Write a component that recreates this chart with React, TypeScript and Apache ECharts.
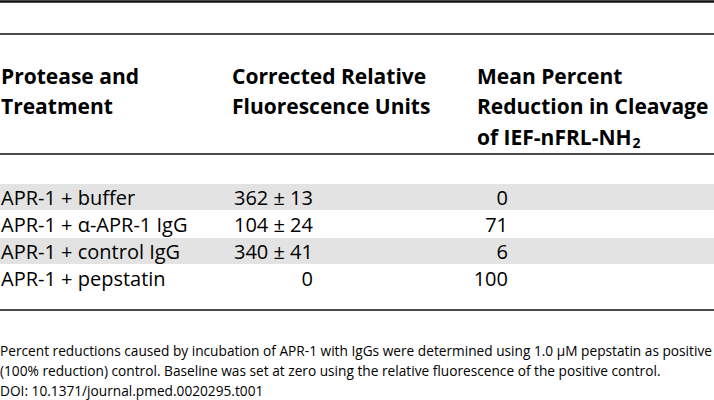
import React, { useEffect, useRef } from "react";
import * as echarts from "echarts";

const headers = [
  ["Protease and", "Treatment"],
  ["Corrected Relative", "Fluorescence Units"],
  ["Mean Percent", "Reduction in Cleavage", "of IEF-nFRL-NH{sub|2}"],
];
const treatments = [
  "APR-1 + buffer",
  "APR-1 + \u03b1-APR-1 IgG",
  "APR-1 + control IgG",
  "APR-1 + pepstatin",
];
const rfuMean = [362, 104, 340, 0];
const rfuSd: (number | null)[] = [13, 24, 41, null];
const reduction = [0, 71, 6, 100];
const footnotes = [
  "Percent reductions caused by incubation of APR-1 with IgGs were determined using 1.0 \u03bcM pepstatin as positive",
  "(100% reduction) control. Baseline was set at zero using the relative fluorescence of the positive control.",
  "DOI: 10.1371/journal.pmed.0020295.t001",
];

const FONT = "'Open Sans', 'DejaVu Sans', sans-serif";

export default function App() {
  const ref = useRef<HTMLDivElement>(null);
  useEffect(() => {
    if (!ref.current) return;
    const chart = echarts.init(ref.current, undefined, { renderer: "svg" });
    const W = 714;
    const colX = [1, 232, 477];
    const headerY = [76, 106, 137];
    const rowTop = 184;
    const rowH = 27;
    const g: any[] = [];
    const hline = (y: number, w: number) =>
      g.push({ type: "rect", shape: { x: 0, y: y - w / 2, width: W, height: w }, style: { fill: "#111" } });
    hline(1.5, 2.4);
    hline(34, 1.7);
    hline(154, 1.7);
    hline(310, 1.7);
    treatments.forEach((_, i) => {
      if (i % 2 === 0) {
        g.push({
          type: "rect",
          shape: { x: 0, y: rowTop + i * rowH, width: W, height: rowH - 1 },
          style: { fill: "#e3e3e3" },
        });
      }
    });
    headers.forEach((lines, c) => {
      lines.forEach((t, l) => {
        g.push({
          type: "text",
          x: colX[c],
          y: headerY[l],
          style: {
            text: t,
            fill: "#000",
            font: `bold 21px ${FONT}`,
            textVerticalAlign: "middle",
            rich: { sub: { font: `bold 14px ${FONT}`, fill: "#000", padding: [11, 0, 0, 1] } },
          },
        });
      });
    });
    treatments.forEach((t, i) => {
      const y = rowTop + i * rowH + 13;
      g.push({
        type: "text",
        x: colX[0],
        y,
        style: { text: t, fill: "#000", font: `20px ${FONT}`, textVerticalAlign: "middle" },
      });
      const sd = rfuSd[i];
      g.push({
        type: "text",
        x: 313,
        y,
        style: {
          text: sd === null ? String(rfuMean[i]) : `${rfuMean[i]} \u00b1 ${sd}`,
          fill: "#000",
          font: `20px ${FONT}`,
          textAlign: "right",
          textVerticalAlign: "middle",
        },
      });
      g.push({
        type: "text",
        x: 508,
        y,
        style: {
          text: String(reduction[i]),
          fill: "#000",
          font: `20px ${FONT}`,
          textAlign: "right",
          textVerticalAlign: "middle",
        },
      });
    });
    const footY = [350, 370, 390];
    footnotes.forEach((t, i) => {
      g.push({
        type: "text",
        x: 0,
        y: footY[i],
        style: { text: t, fill: "#000", font: `13.7px ${FONT}`, textVerticalAlign: "middle" },
      });
    });
    chart.setOption({ animation: false, graphic: g });
    return () => chart.dispose();
  }, []);
  return (
    <div
      ref={ref}
      style={{ position: "fixed", left: 0, top: 0, width: 714, height: 400, background: "#fff" }}
    />
  );
}
